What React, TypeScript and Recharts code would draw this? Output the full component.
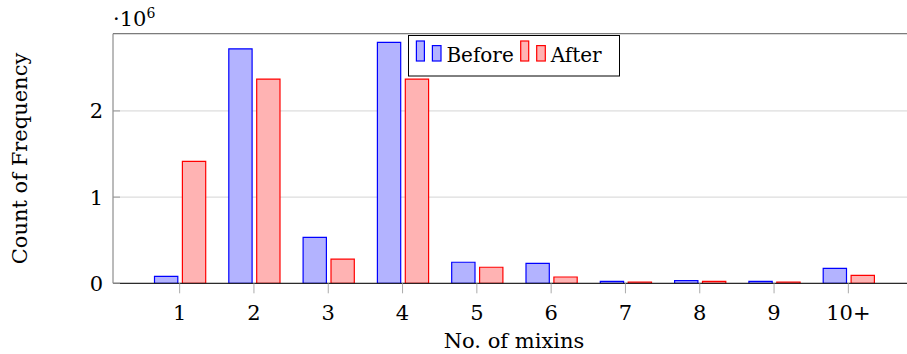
import React from 'react';
import { BarChart, Bar, XAxis, YAxis, CartesianGrid, Legend } from 'recharts';

const categories = ['1', '2', '3', '4', '5', '6', '7', '8', '9', '10+'];
const beforeValues = [81000, 2720000, 534000, 2796000, 244000, 232000, 23000, 30000, 23000, 174000];
const afterValues = [1415000, 2370000, 280000, 2370000, 186000, 73000, 15000, 23000, 15000, 93000];
const seriesNames = ['Before', 'After'];
const yTicks = [0, 1000000, 2000000];
const yTickLabels = ['0', '1', '2'];
const yMax = 2896000;
const xLabel = 'No. of mixins';
const yLabel = 'Count of Frequency';
const scaleBase = '·10';
const scaleExp = '6';

const FONT = 'DejaVu Serif';
const FILLS = ['#b3b3ff', '#ffb3b3'];
const STROKES = ['#0000ff', '#ff0000'];

const data = categories.map((c, i) => ({ cat: c, before: beforeValues[i], after: afterValues[i] }));

const renderLegend = () => {
  const starts = [8.4, 112.7];
  return (
    <svg width={212} height={42} style={{ display: 'block' }}>
      <rect x={0.5} y={0.5} width={211} height={40.5} fill="#fff" stroke="#000" strokeWidth={1} />
      {seriesNames.map((name, i) => {
        const bx = starts[i];
        return (
          <g key={name}>
            <rect x={bx} y={6} width={8} height={20} fill={FILLS[i]} stroke={STROKES[i]} strokeWidth={1.2} />
            <rect x={bx + 16} y={10.6} width={8.6} height={15.4} fill={FILLS[i]} stroke={STROKES[i]} strokeWidth={1.2} />
            <text x={bx + 30} y={27.3} fontFamily={FONT} fontSize={20} fill="#000">{name}</text>
          </g>
        );
      })}
    </svg>
  );
};

export default function App() {
  return (
    <div style={{ position: 'absolute', left: 0, top: 0, width: 907, height: 354, overflow: 'hidden', background: '#fff' }}>
      <BarChart
        width={922}
        height={354}
        data={data}
        margin={{ top: 3.7, right: 7, bottom: 0, left: 0 }}
        barSize={23.3}
        barGap={4.6}
      >
        <CartesianGrid horizontal vertical={false} stroke="#d4d4d4" strokeWidth={1} />
        <XAxis
          xAxisId="top"
          orientation="top"
          dataKey="cat"
          height={30}
          padding={{ left: 29.5, right: 29.5 }}
          tick={false}
          tickSize={10}
          tickLine={{ stroke: '#aaaaaa', strokeWidth: 1 }}
          axisLine={{ stroke: '#666666', strokeWidth: 1 }}
          label={(props: any) => {
            const vb = props.viewBox || {};
            return (
              <text x={vb.x} y={vb.y + 22.3} fontFamily={FONT} fontSize={21} fill="#000">
                {scaleBase}
                <tspan dy={-8} fontSize={14}>{scaleExp}</tspan>
              </text>
            );
          }}
        />
        <XAxis
          dataKey="cat"
          height={70.7}
          padding={{ left: 29.5, right: 29.5 }}
          tickSize={10}
          tickMargin={11.5}
          tick={{ fontFamily: FONT, fontSize: 21, fill: '#000' }}
          tickLine={{ stroke: '#aaaaaa', strokeWidth: 1 }}
          axisLine={{ stroke: '#000', strokeWidth: 1 }}
          label={(props: any) => {
            const vb = props.viewBox || {};
            return (
              <text x={vb.x + vb.width / 2} y={vb.y + 64.4} textAnchor="middle" fontFamily={FONT} fontSize={21} fill="#000">
                {xLabel}
              </text>
            );
          }}
        />
        <YAxis
          width={113}
          domain={[0, yMax]}
          ticks={yTicks}
          allowDataOverflow
          tickFormatter={(v: number) => yTickLabels[yTicks.indexOf(v)]}
          tickSize={-7}
          tickMargin={17}
          tick={{ fontFamily: FONT, fontSize: 21, fill: '#000' }}
          tickLine={{ stroke: '#999999', strokeWidth: 1 }}
          axisLine={{ stroke: '#777777', strokeWidth: 1 }}
          label={(props: any) => {
            const vb = props.viewBox || {};
            const cy = vb.y + vb.height / 2;
            return (
              <text x={27} y={cy} textAnchor="middle" transform={`rotate(-90 27 ${cy})`} fontFamily={FONT} fontSize={21} fill="#000">
                {yLabel}
              </text>
            );
          }}
        />
        <Legend
          layout="horizontal"
          verticalAlign="middle"
          align="center"
          wrapperStyle={{ left: 408.3, top: 34.7, width: 212, height: 42, bottom: 'auto', right: 'auto' }}
          content={renderLegend}
        />
        <Bar dataKey="before" name={seriesNames[0]} fill={FILLS[0]} stroke={STROKES[0]} strokeWidth={1.2} isAnimationActive={false} />
        <Bar dataKey="after" name={seriesNames[1]} fill={FILLS[1]} stroke={STROKES[1]} strokeWidth={1.2} isAnimationActive={false} />
      </BarChart>
    </div>
  );
}
